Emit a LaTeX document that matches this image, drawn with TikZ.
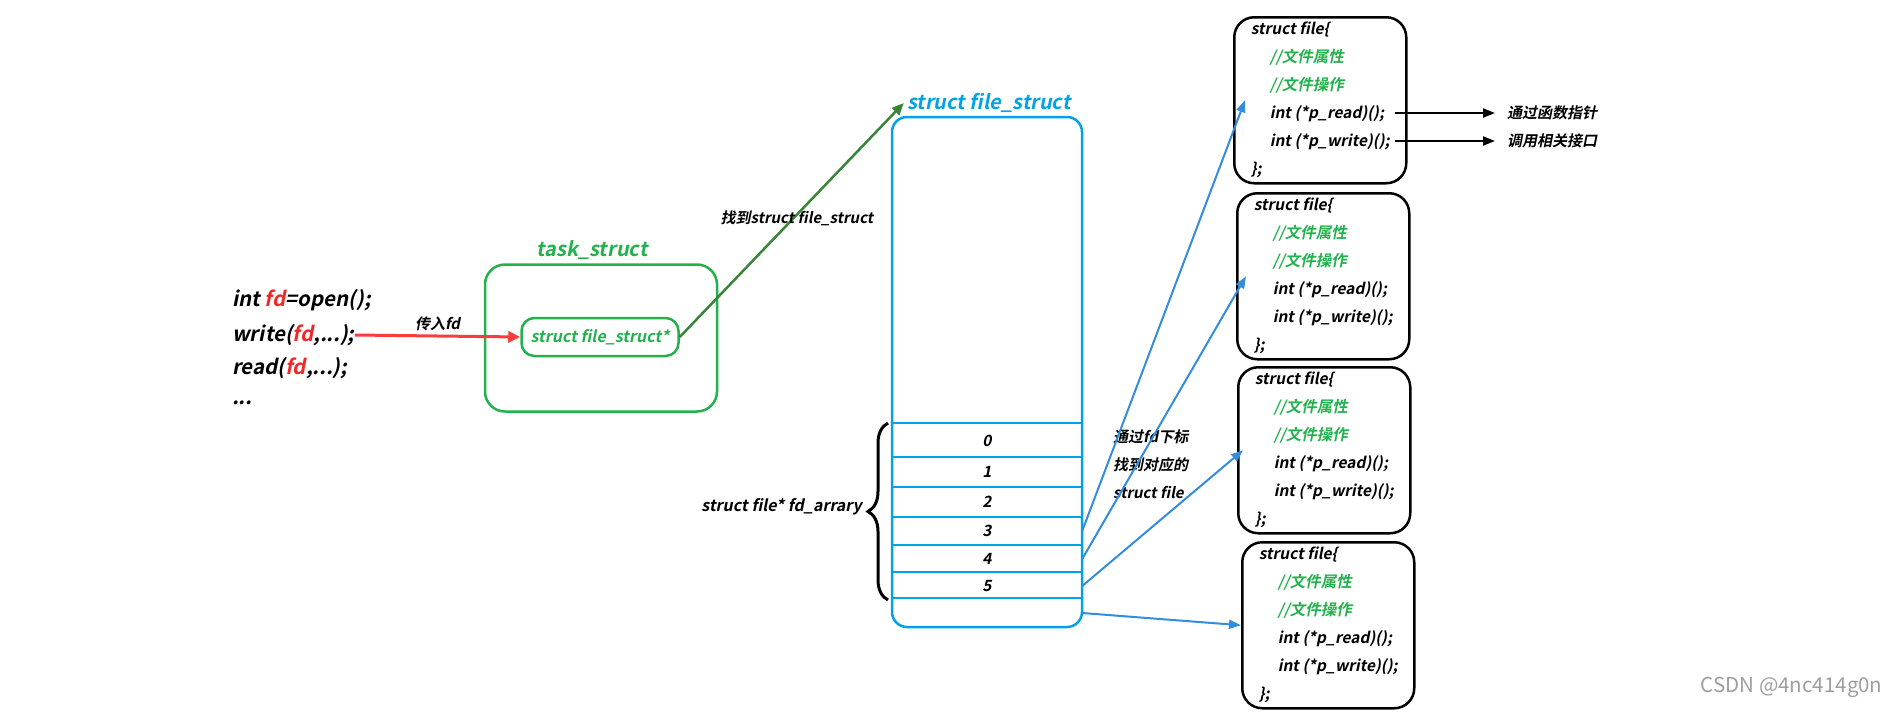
\documentclass[tikz,border=0pt]{standalone}
\usepackage{fontspec}
\usetikzlibrary{positioning,decorations.pathreplacing,arrows.meta}
\newfontfamily\yahei{Noto Sans CJK SC Bold}[FakeSlant=0.2]
\newfontfamily\plainsans{Noto Sans CJK SC}
\definecolor{taskgreen}{RGB}{34,177,76}
\definecolor{fsblue}{RGB}{0,162,232}
\definecolor{ptrblue}{RGB}{52,140,220}
\definecolor{findgreen}{RGB}{56,132,56}
\definecolor{fdred}{RGB}{240,40,40}
\definecolor{arrred}{RGB}{250,60,60}

\tikzset{
  code/.style={font=\yahei\fontsize{20.5}{20}\selectfont, anchor=west, inner sep=0pt},
  note/.style={font=\yahei\fontsize{15}{28}\selectfont, inner sep=0pt, text=black},
  cell/.style={font=\yahei\fontsize{15.5}{15}\selectfont, minimum width=190pt, inner sep=0pt},
  filebox/.style={draw, line width=2.5pt, rounded corners=20pt, align=left,
    minimum width=172pt, minimum height=166pt, anchor=north west,
    font=\yahei\fontsize{15.5}{28}\selectfont},
  ptrarrow/.style={ptrblue, line width=2pt, -{Triangle[length=12pt,width=9pt]}},
  callarrow/.style={black, line width=2pt, -{Triangle[length=12pt,width=9pt]}},
  callnote/.style={font=\yahei\fontsize{15}{15}\selectfont, anchor=west, inner xsep=12pt},
}

\begin{document}
\begin{tikzpicture}[x=1pt, y=-1pt]
        \useasboundingbox (0,0) rectangle (1888,723);

        % user code
        \node[code] (open) at (232,300) {int \textcolor{fdred}{fd}=open();};
        \node[code] (wr) at (232,335) {write(\textcolor{fdred}{fd},...);};
        \node[code] (rd) at (232,368) {read(\textcolor{fdred}{fd},...);};
        \node[code] (more) at (232,403) {...};

        % task_struct
        \node[draw=taskgreen, line width=2.5pt, rounded corners=20pt,
          minimum width=232pt, minimum height=147pt] (task) at (601,338) {};
        \node[font=\yahei\fontsize{20}{20}\selectfont, text=taskgreen]
          (tasktitle) at (592,250) {task\_struct};
        \node[draw=taskgreen, line width=2.5pt, rounded corners=13pt,
          minimum width=157pt, minimum height=38pt, text=taskgreen,
          font=\yahei\fontsize{16}{16}\selectfont] (fsptr) at (600,337) {struct file\_struct*};

        \draw[arrred, line width=3pt, -{Triangle[length=12pt,width=11pt]}] (wr.east) -- (fsptr.west)
          node[midway, above=4pt, note] (passfd) {传入fd};

        % file_struct
        \node[font=\yahei\fontsize{20}{20}\selectfont, text=fsblue]
          (fstitle) at (989,103) {struct file\_struct};
        \draw[fsblue, line width=2.5pt, rounded corners=15pt] (892,117) rectangle (1082,627);
        \draw[fsblue, line width=2.5pt]
          (892,423) -- (1082,423) (892,457) -- (1082,457)
          (892,487) -- (1082,487) (892,517) -- (1082,517)
          (892,545) -- (1082,545) (892,572) -- (1082,572)
          (892,598) -- (1082,598);

        \node[cell] (fd0) at (987,441) {0};
        \node[cell] (fd1) at (987,472) {1};
        \node[cell] (fd2) at (987,502) {2};
        \node[cell] (fd3) at (987,531) {3};
        \node[cell] (fd4) at (987,559) {4};
        \node[cell] (fd5) at (987,586) {5};
        \node[cell] (fd6) at (987,613) {};

        \draw[findgreen, line width=2.5pt, -{Triangle[length=12pt,width=10pt]}] (fsptr.east) -- (fstitle.west);
        \node[note] (findlbl) at (797,218) {找到struct file\_struct};

        \draw[line width=3pt, decorate, decoration={brace, amplitude=20pt}] (888,600) -- (888,423);
        \coordinate (bracetip) at (866,507);
        \node[note, left=4pt of bracetip, font=\yahei\fontsize{16}{16}\selectfont] (fdarr) {struct file* fd\_arrary};

        \node[note, align=left, anchor=north west] (idxnote) at (1113,430) {通过fd下标\\找到对应的\\struct file};

        % struct file
        \node[filebox] (file1) at (1233,16) {struct file\{\\
          \hspace*{19pt}\textcolor{taskgreen}{//文件属性}\\
          \hspace*{19pt}\textcolor{taskgreen}{//文件操作}\\
          \hspace*{19pt}int (*p\_read)();\\
          \hspace*{19pt}int (*p\_write)();\\
          \};};
        \node[filebox] (file2) at (1236,192) {struct file\{\\
          \hspace*{19pt}\textcolor{taskgreen}{//文件属性}\\
          \hspace*{19pt}\textcolor{taskgreen}{//文件操作}\\
          \hspace*{19pt}int (*p\_read)();\\
          \hspace*{19pt}int (*p\_write)();\\
          \};};
        \node[filebox] (file3) at (1237,366) {struct file\{\\
          \hspace*{19pt}\textcolor{taskgreen}{//文件属性}\\
          \hspace*{19pt}\textcolor{taskgreen}{//文件操作}\\
          \hspace*{19pt}int (*p\_read)();\\
          \hspace*{19pt}int (*p\_write)();\\
          \};};
        \node[filebox] (file4) at (1241,541) {struct file\{\\
          \hspace*{19pt}\textcolor{taskgreen}{//文件属性}\\
          \hspace*{19pt}\textcolor{taskgreen}{//文件操作}\\
          \hspace*{19pt}int (*p\_read)();\\
          \hspace*{19pt}int (*p\_write)();\\
          \};};

        \draw[ptrarrow] (fd3.east) -- ([xshift=12pt]file1.west);
        \draw[ptrarrow] (fd4.east) -- ([xshift=10pt]file2.west);
        \draw[ptrarrow] (fd5.east) -- ([xshift=6pt]file3.west);
        \draw[ptrarrow] (fd6.east) -- (file4.west);

        \coordinate (readend) at (1395,113);
        \coordinate (writeend) at (1395,141);
        \node[callnote] (fnptr) at (1495,113) {通过函数指针};
        \node[callnote] (callapi) at (1495,141) {调用相关接口};
        \draw[callarrow] (readend) -- (fnptr.west);
        \draw[callarrow] (writeend) -- (callapi.west);

        \node[font=\plainsans\fontsize{20.5}{20}\selectfont, text=black!38, anchor=east]
          (mark) at (1886,687) {CSDN @4nc414g0n};
      \end{tikzpicture}
\end{document}
